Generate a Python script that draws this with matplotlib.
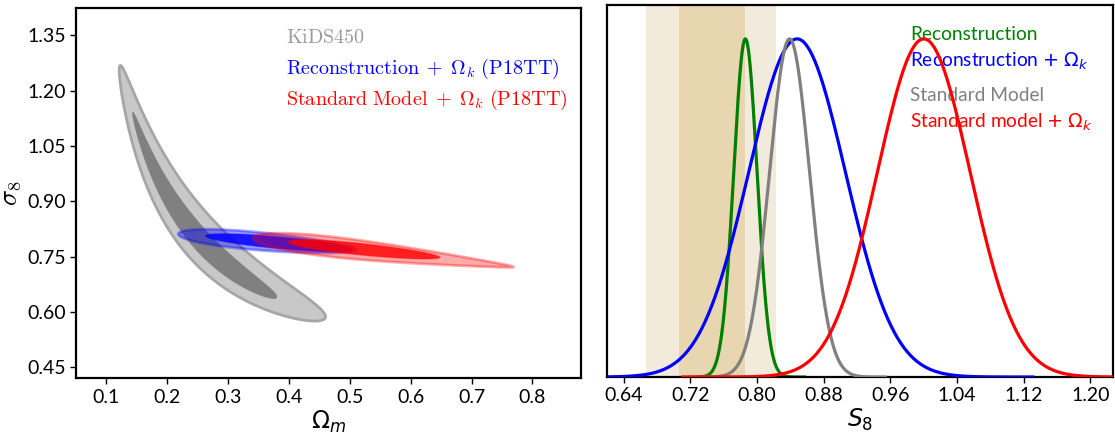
import numpy as np
import matplotlib
matplotlib.use('Agg')
import matplotlib.pyplot as plt

plt.rcParams['font.family'] = ['Lato', 'DejaVu Sans']
plt.rcParams['mathtext.fontset'] = 'dejavusans'

# ---- left panel: confidence contours (tips)
# tips = (Omega_m, sigma_8) at both ends, half = max half-thickness in sigma_8
kids_tips = [[(0.121, 1.255), (0.460, 0.587)], [(0.143, 1.138), (0.380, 0.641)]]
kids_half = [0.106, 0.050]   # in log(sigma_8)
kids_skew = [-0.1, -0.2]
kids_bend = [0.03, 0.02]

recon_tips = [[(0.218, 0.811), (0.512, 0.768)], [(0.263, 0.806), (0.505, 0.769)]]
recon_half = [0.024, 0.016]
recon_skew = [0.2, 0.0]

std_tips = [[(0.341, 0.800), (0.769, 0.722)], [(0.3995, 0.790), (0.648, 0.748)]]
std_half = [0.024, 0.0158]
std_skew = [0.6, 0.1]

left_labels = ['KiDS450', 'Reconstruction', 'Standard Model']

# ---- right panel: S8 posteriors
s8_labels = ['Reconstruction', r'Reconstruction $+$ $\Omega_k$',
             'Standard Model', r'Standard model $+$ $\Omega_k$']
s8_colors = ['green', 'blue', 'gray', 'red']
s8_mean = [0.786, 0.848, 0.839, 1.000]
s8_sigma = [0.014, 0.058, 0.024, 0.0556]
s8_lo = [0.73, 0.62, 0.72, 0.711]
s8_hi = [0.857, 1.131, 0.954, 1.227]

kids_s8_1sig = (0.706, 0.785)
kids_s8_2sig = (0.667, 0.823)


def contour_shape(tips, half, skew=0.0, bend=0.0, log=False, n=300):
    (x0, y0), (x1, y1) = tips
    if log:
        x0, x1, y0, y1 = np.log([x0, x1, y0, y1])
    t = -np.cos(np.linspace(0, np.pi, n))
    xc = (x0 + x1) / 2 + t * (x1 - x0) / 2
    yc = (y0 + y1) / 2 + t * (y1 - y0) / 2 - bend * (1 - t**2)
    h = half * np.sqrt(1 - t**2) * (1 - skew * t)
    x = np.concatenate([xc, xc[::-1]])
    y = np.concatenate([yc + h, (yc - h)[::-1]])
    if log:
        x, y = np.exp(x), np.exp(y)
    return x, y


fig = plt.figure(figsize=(11.15, 4.34), dpi=100)
ax1 = fig.add_axes([0.0682, 0.1283, 0.4529, 0.8525])
ax2 = fig.add_axes([0.5444, 0.1313, 0.4538, 0.857])

# KiDS450 banana
x, y = contour_shape(kids_tips[0], kids_half[0], kids_skew[0], kids_bend[0], log=True)
ax1.fill(x, y, facecolor='#c8c8c8', edgecolor='#a6a6a6', lw=2, zorder=1)
x, y = contour_shape(kids_tips[1], kids_half[1], kids_skew[1], kids_bend[1], log=True)
ax1.fill(x, y, facecolor='#808080', edgecolor='#808080', lw=0.5, zorder=2)

# Reconstruction + Ok
x, y = contour_shape(recon_tips[0], recon_half[0], recon_skew[0])
ax1.fill(x, y, facecolor=(0, 0, 1, 0.4), edgecolor=(0, 0, 1, 0.35), lw=2, zorder=3)
x, y = contour_shape(recon_tips[1], recon_half[1], recon_skew[1])
ax1.fill(x, y, facecolor=(0, 0, 1, 0.85), edgecolor=(0, 0, 1, 0.3), lw=1, zorder=4)

# Standard model + Ok
x, y = contour_shape(std_tips[0], std_half[0], std_skew[0])
ax1.fill(x, y, facecolor=(1, 0, 0, 0.33), edgecolor=(1, 0, 0, 0.35), lw=2, zorder=5)
x, y = contour_shape(std_tips[1], std_half[1], std_skew[1])
ax1.fill(x, y, facecolor=(1, 0, 0, 0.82), edgecolor=(1, 0, 0, 0.3), lw=1, zorder=6)

ax1.set_xlim(0.05, 0.88)
ax1.set_ylim(0.42, 1.423)
ax1.set_xticks([0.1, 0.2, 0.3, 0.4, 0.5, 0.6, 0.7, 0.8])
ax1.set_xticklabels(['0.1', '0.2', '0.3', '0.4', '0.5', '0.6', '0.7', '0.8'])
yt = [0.45, 0.60, 0.75, 0.90, 1.05, 1.20, 1.35]
ax1.set_yticks(yt)
ax1.set_yticklabels(['%.2f' % v for v in yt])
ax1.set_xlabel(r'$\Omega_m$', fontsize=17, labelpad=2)
ax1.set_ylabel(r'$\sigma_8$', fontsize=19, math_fontfamily='cm', labelpad=3)

left_texts = [r'$\mathrm{KiDS450}$',
              r'$\mathrm{Reconstruction}\;+\;\Omega_k\ \mathrm{(P18TT)}$',
              r'$\mathrm{Standard\ Model}\;+\;\Omega_k\ \mathrm{(P18TT)}$']
left_colors = ['#999999', 'blue', 'red']
left_y = [0.905, 0.824, 0.739]
for txt, c, yy in zip(left_texts, left_colors, left_y):
    ax1.text(0.416, yy, txt, color=c, fontsize=14.5, math_fontfamily='cm',
             transform=ax1.transAxes, va='baseline', ha='left')

# right panel
ax2.axvspan(kids_s8_2sig[0], kids_s8_2sig[1], color='#f2eadb', lw=0, zorder=0)
ax2.axvspan(kids_s8_1sig[0], kids_s8_1sig[1], color='#e8d6b0', lw=0, zorder=0)

for i in range(4):
    s = np.linspace(s8_lo[i], s8_hi[i], 400)
    p = np.exp(-0.5 * ((s - s8_mean[i]) / s8_sigma[i])**2)
    ax2.plot(s, p, color=s8_colors[i], lw=2.3, zorder=2 + i)

right_y = [0.906, 0.834, 0.742, 0.670]
for txt, c, yy in zip(s8_labels, s8_colors, right_y):
    ax2.text(0.599, yy, txt, color=c, fontsize=13.8, transform=ax2.transAxes,
             va='baseline', ha='left')

ax2.set_xlim(0.62, 1.227)
ax2.set_ylim(0, 1.1)
xt2 = [0.64, 0.72, 0.80, 0.88, 0.96, 1.04, 1.12, 1.20]
ax2.set_xticks(xt2)
ax2.set_xticklabels(['%.2f' % v for v in xt2])
ax2.set_yticks([])
ax2.set_xlabel(r'$S_8$', fontsize=17, labelpad=2)

for ax in (ax1, ax2):
    for sp in ax.spines.values():
        sp.set_linewidth(1.6)
    ax.tick_params(direction='out', length=4, width=1, labelsize=14)

fig.savefig('out.png', dpi=100)
